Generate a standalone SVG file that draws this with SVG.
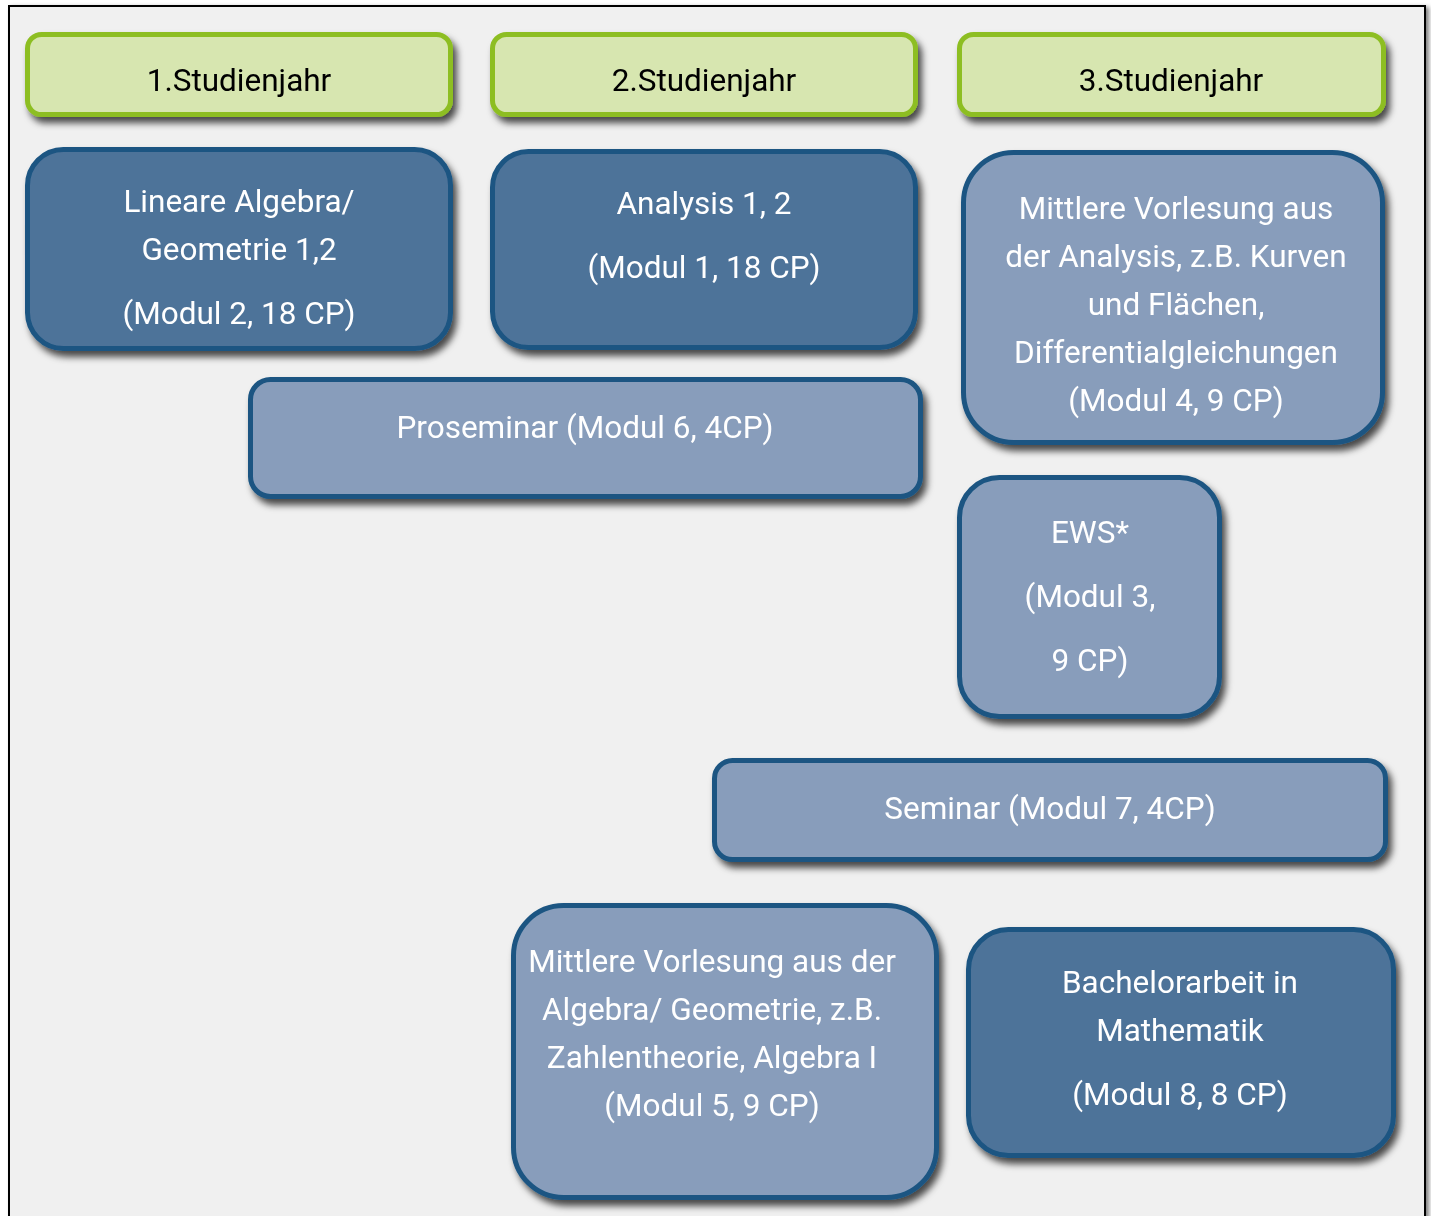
<svg xmlns="http://www.w3.org/2000/svg" width="1431" height="1216" viewBox="0 0 1431 1216">
<defs>
<filter id="sh" x="-10%" y="-10%" width="125%" height="130%">
<feDropShadow dx="4" dy="6" stdDeviation="3.5" flood-color="#000" flood-opacity="0.7"/>
</filter>
<filter id="fsh" x="-5%" y="-5%" width="110%" height="110%">
<feDropShadow dx="3" dy="2" stdDeviation="2" flood-color="#000" flood-opacity="0.5"/>
</filter>
<style>
.hd{fill:#d7e6b0;stroke:#8dbe22;stroke-width:5}
.dk{fill:#4e7399;stroke:#1b5582;stroke-width:5}
.lt{fill:#889dbb;stroke:#1b5582;stroke-width:5}
text{font-family:Roboto,"Liberation Sans",sans-serif;font-size:31.5px;text-anchor:middle}
.w{fill:#ffffff}
.b{fill:#000000}
</style>
</defs>
<rect x="0" y="0" width="1431" height="1216" fill="#ffffff"/>
<rect x="9" y="6" width="1416" height="1230" fill="#f0f0f0" stroke="#000" stroke-width="2" filter="url(#fsh)"/>
<g id="connectors"/>
<g id="h1" filter="url(#sh)">
<rect class="hd" x="27.5" y="34.5" width="423" height="80" rx="14"/>
<text class="b" x="239" y="91">1.Studienjahr</text>
</g>
<g id="h2" filter="url(#sh)">
<rect class="hd" x="492.5" y="34.5" width="423" height="80" rx="14"/>
<text class="b" x="704" y="91">2.Studienjahr</text>
</g>
<g id="h3" filter="url(#sh)">
<rect class="hd" x="959.5" y="34.5" width="424" height="80" rx="14"/>
<text class="b" x="1171" y="91">3.Studienjahr</text>
</g>
<g id="n-linalg" filter="url(#sh)">
<rect class="dk" x="27.5" y="149.5" width="423" height="199" rx="36"/>
<text class="w" x="239" y="212">Lineare Algebra/</text>
<text class="w" x="239" y="260">Geometrie 1,2</text>
<text class="w" x="239" y="324">(Modul 2, 18 CP)</text>
</g>
<g id="n-analysis" filter="url(#sh)">
<rect class="dk" x="492.5" y="151.5" width="423" height="196" rx="36"/>
<text class="w" x="704" y="214">Analysis 1, 2</text>
<text class="w" x="704" y="278">(Modul 1, 18 CP)</text>
</g>
<g id="n-mittlere-analysis" filter="url(#sh)">
<rect class="lt" x="963.5" y="152.5" width="419" height="290" rx="50"/>
<text class="w" x="1176" y="219">Mittlere Vorlesung aus</text>
<text class="w" x="1176" y="267">der Analysis, z.B. Kurven</text>
<text class="w" x="1176" y="315">und Flächen,</text>
<text class="w" x="1176" y="363">Differentialgleichungen</text>
<text class="w" x="1176" y="411">(Modul 4, 9 CP)</text>
</g>
<g id="n-proseminar" filter="url(#sh)">
<rect class="lt" x="250.5" y="379.5" width="670" height="117" rx="20"/>
<text class="w" x="585" y="438">Proseminar (Modul 6, 4CP)</text>
</g>
<g id="n-ews" filter="url(#sh)">
<rect class="lt" x="959.5" y="477.5" width="260" height="239" rx="40"/>
<text class="w" x="1090" y="543">EWS*</text>
<text class="w" x="1090" y="607">(Modul 3,</text>
<text class="w" x="1090" y="671">9 CP)</text>
</g>
<g id="n-seminar" filter="url(#sh)">
<rect class="lt" x="714.5" y="760.5" width="671" height="99" rx="18"/>
<text class="w" x="1050" y="819">Seminar (Modul 7, 4CP)</text>
</g>
<g id="n-mittlere-algebra" filter="url(#sh)">
<rect class="lt" x="513.5" y="905.5" width="423" height="292" rx="50"/>
<text class="w" x="712" y="972">Mittlere Vorlesung aus der</text>
<text class="w" x="712" y="1020">Algebra/ Geometrie, z.B.</text>
<text class="w" x="712" y="1068">Zahlentheorie, Algebra I</text>
<text class="w" x="712" y="1116">(Modul 5, 9 CP)</text>
</g>
<g id="n-bachelor" filter="url(#sh)">
<rect class="dk" x="968.5" y="929.5" width="425" height="226" rx="40"/>
<text class="w" x="1180" y="993">Bachelorarbeit in</text>
<text class="w" x="1180" y="1041">Mathematik</text>
<text class="w" x="1180" y="1105">(Modul 8, 8 CP)</text>
</g>
</svg>
